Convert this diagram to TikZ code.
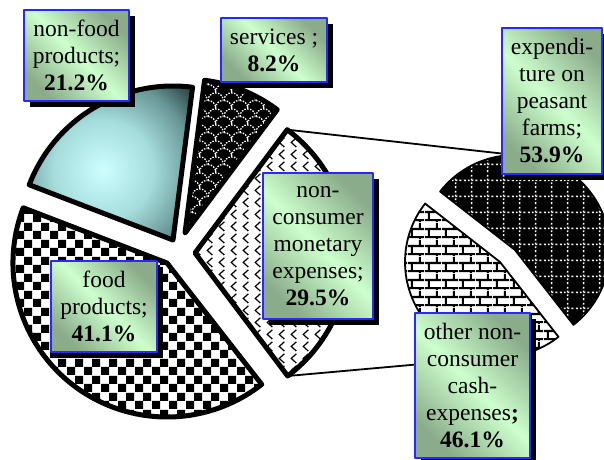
\documentclass[tikz,border=0pt]{standalone}
\usepackage{fontspec}
\setmainfont{Liberation Serif}
\usetikzlibrary{patterns,shadows}

\definecolor{nfa}{RGB}{205,255,255}
\definecolor{nfb}{RGB}{165,220,220}
\definecolor{nfc}{RGB}{105,150,150}
\definecolor{nfd}{RGB}{50,78,78}
\definecolor{lbllight}{RGB}{205,255,205}
\definecolor{lbldark}{RGB}{138,172,138}
\definecolor{lblblue}{RGB}{40,40,255}

\pgfdeclareradialshading{bevel}{\pgfpointorigin}{%
  color(0bp)=(nfa); color(10bp)=(nfb); color(18bp)=(nfc);
  color(23bp)=(nfd); color(25bp)=(nfd); color(50bp)=(nfd)}

% checkerboard
\pgfdeclarepatternformonly{chk}{\pgfqpoint{0pt}{0pt}}{\pgfqpoint{17pt}{17pt}}{\pgfqpoint{17pt}{17pt}}{%
  \pgfpathrectangle{\pgfqpoint{0pt}{0pt}}{\pgfqpoint{8.5pt}{8.5pt}}%
  \pgfpathrectangle{\pgfqpoint{8.5pt}{8.5pt}}{\pgfqpoint{8.5pt}{8.5pt}}%
  \pgfusepath{fill}}
% dotted grid
\pgfdeclarepatternformonly{dgrid}{\pgfqpoint{0pt}{0pt}}{\pgfqpoint{16pt}{16pt}}{\pgfqpoint{16pt}{16pt}}{%
  \pgfsetlinewidth{1.6pt}\pgfsetdash{{2pt}{2pt}}{0pt}%
  \pgfpathmoveto{\pgfqpoint{0pt}{8pt}}\pgfpathlineto{\pgfqpoint{16pt}{8pt}}%
  \pgfpathmoveto{\pgfqpoint{8pt}{0pt}}\pgfpathlineto{\pgfqpoint{8pt}{16pt}}%
  \pgfusepath{stroke}}
% bricks
\pgfdeclarepatternformonly{brk}{\pgfqpoint{0pt}{0pt}}{\pgfqpoint{17pt}{17pt}}{\pgfqpoint{17pt}{17pt}}{%
  \pgfsetlinewidth{2.2pt}%
  \pgfpathmoveto{\pgfqpoint{0pt}{2pt}}\pgfpathlineto{\pgfqpoint{17pt}{2pt}}%
  \pgfpathmoveto{\pgfqpoint{0pt}{10.5pt}}\pgfpathlineto{\pgfqpoint{17pt}{10.5pt}}%
  \pgfpathmoveto{\pgfqpoint{4pt}{2pt}}\pgfpathlineto{\pgfqpoint{4pt}{10.5pt}}%
  \pgfpathmoveto{\pgfqpoint{12.5pt}{10.5pt}}\pgfpathlineto{\pgfqpoint{12.5pt}{17pt}}%
  \pgfpathmoveto{\pgfqpoint{12.5pt}{0pt}}\pgfpathlineto{\pgfqpoint{12.5pt}{2pt}}%
  \pgfusepath{stroke}}
% scales
\pgfdeclarepatternformonly{scl}{\pgfqpoint{0pt}{0pt}}{\pgfqpoint{16pt}{16pt}}{\pgfqpoint{16pt}{16pt}}{%
  \pgfsetlinewidth{1.4pt}\pgfsetdash{{1.6pt}{1.4pt}}{0pt}%
  \pgfpathmoveto{\pgfqpoint{0pt}{8pt}}\pgfpatharc{180}{0}{8pt}%
  \pgfpathmoveto{\pgfqpoint{0pt}{8pt}}\pgfpatharc{90}{0}{8pt}%
  \pgfpathmoveto{\pgfqpoint{8pt}{0pt}}\pgfpatharc{180}{90}{8pt}%
  \pgfusepath{stroke}}
% chevrons
\pgfdeclarepatternformonly{chev}{\pgfqpoint{0pt}{0pt}}{\pgfqpoint{12pt}{12pt}}{\pgfqpoint{12pt}{12pt}}{%
  \pgfsetlinewidth{1.3pt}%
  \pgfpathmoveto{\pgfqpoint{9pt}{11pt}}\pgfpathlineto{\pgfqpoint{3.5pt}{6pt}}\pgfpathlineto{\pgfqpoint{9pt}{1pt}}%
  \pgfusepath{stroke}}

\tikzset{
  slice/.style={draw=black, line width=5pt},
  slicetwo/.style={draw=black, line width=1.8pt},
  conn/.style={draw=black, line width=1.8pt},
  lbl/.style={draw=lblblue, line width=1.3pt, top color=lbldark, bottom color=lbldark,
    middle color=lbllight, shading angle=-45, align=center, inner sep=0pt,
    font=\fontsize{23.5}{27}\selectfont,
    drop shadow={shadow xshift=6pt, shadow yshift=-6pt, fill=black, opacity=1}}
}

\begin{document}
\begin{tikzpicture}[x=1pt, y=1pt, line join=round]
\useasboundingbox (0,0) rectangle (604,459);
\fill[white] (0,0) rectangle (604,459);

\coordinate (ctfood) at (167,196);
\coordinate (ctnonfood) at (173,219);
\coordinate (ctserv) at (185,226);
\coordinate (ctnoncon) at (195,206);
\coordinate (ctfarm) at (515,209);
\coordinate (ctother) at (500,197);

\path (ctnoncon) ++(53.2:154) coordinate (nctop);
\path (ctnoncon) ++(-53:154) coordinate (ncbot);
\path (ctfarm) ++(90:95) coordinate (farmtop);
\path (ctother) ++(-90:95) coordinate (otherbot);

% connectors
\draw[conn] (nctop) -- (farmtop);
\draw[conn] (ncbot) -- (otherbot);

% main pie
\draw[slice, preaction={fill=white}, pattern=chk, pattern color=black]
  (ctfood) -- ++(159:154) arc[start angle=159, end angle=307.96, radius=154] -- cycle;
\begin{scope}
  \clip (ctnonfood) -- ++(82.7:154) arc[start angle=82.7, end angle=159, radius=154] -- cycle;
  \shade[shading=bevel] (-22,164) rectangle (228,414);
\end{scope}
\draw[slice]
  (ctnonfood) -- ++(82.7:154) arc[start angle=82.7, end angle=159, radius=154] -- cycle;
\draw[slice, preaction={fill=black}, pattern=scl, pattern color=white]
  (ctserv) -- ++(53.2:154) arc[start angle=53.2, end angle=82.7, radius=154] -- cycle;
\draw[slice, preaction={fill=white}, pattern=chev, pattern color=black]
  (ctnoncon) -- (ncbot) arc[start angle=-53, end angle=53.2, radius=154] -- cycle;

% second pie
\draw[slicetwo, preaction={fill=black}, pattern=dgrid, pattern color=white]
  (ctfarm) -- ++(-52:95) arc[start angle=-52, end angle=142.04, radius=95] -- cycle;
\draw[slicetwo, preaction={fill=white}, pattern=brk, pattern color=black]
  (ctother) -- ++(142.04:95) arc[start angle=142.04, end angle=308, radius=95] -- cycle;

% labels
\node[lbl, minimum width=105pt, minimum height=91pt] (lnonfood) at (76.5,403.5)
  {non-food\\products;\\\textbf{21.2\%}};
\node[lbl, minimum width=106pt, minimum height=64pt] (lserv) at (274,409)
  {services ;\\\textbf{8.2\%}};
\node[lbl, minimum width=100pt, minimum height=146pt] (lfarm) at (552,358)
  {expendi-\\ture on\\peasant\\farms;\\\textbf{53.9\%}};
\node[lbl, minimum width=110pt, minimum height=146pt] (lnoncon) at (318,213)
  {non-\\consumer\\monetary\\expenses;\\\textbf{29.5\%}};
\node[lbl, minimum width=106pt, minimum height=91pt] (lfood) at (104,152.5)
  {food\\products;\\\textbf{41.1\%}};
\node[lbl, minimum width=115pt, minimum height=145pt] (lother) at (472.5,73.5)
  {other non-\\consumer\\cash-\\expenses\textbf{;}\\\textbf{46.1\%}};
\end{tikzpicture}
\end{document}
